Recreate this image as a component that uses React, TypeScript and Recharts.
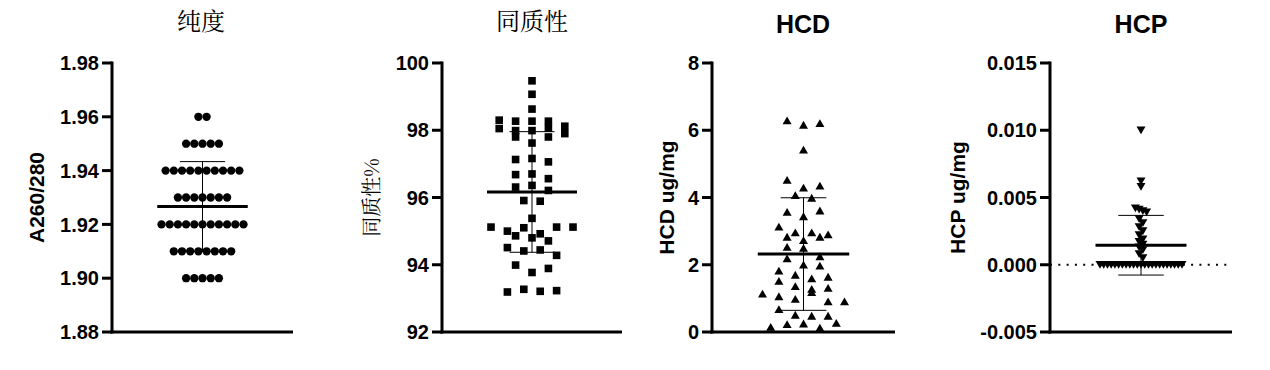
import React from 'react';
import { ScatterChart, Scatter, XAxis, YAxis, ReferenceLine } from 'recharts';

// ---------- data ----------
const titles = ['纯度', '同质性', 'HCD', 'HCP'];
const yLabels = ['A260/280', '同质性%', 'HCD ug/mg', 'HCP ug/mg'];

const purityValues = [
  1.96, 1.96,
  1.95, 1.95, 1.95, 1.95, 1.95,
  1.94, 1.94, 1.94, 1.94, 1.94, 1.94, 1.94, 1.94, 1.94, 1.94,
  1.93, 1.93, 1.93, 1.93, 1.93, 1.93, 1.93,
  1.92, 1.92, 1.92, 1.92, 1.92, 1.92, 1.92, 1.92, 1.92, 1.92, 1.92,
  1.91, 1.91, 1.91, 1.91, 1.91, 1.91, 1.91, 1.91,
  1.9, 1.9, 1.9, 1.9, 1.9,
];
const purityTicks = [1.88, 1.9, 1.92, 1.94, 1.96, 1.98];

const homogeneityValues = [
  99.47, 99.07, 98.63, 98.3, 98.27, 98.27, 98.27, 98.05, 97.8, 97.99, 97.99, 98.12,
  98.06, 97.9, 97.62, 97.8, 97.13, 97.16, 97.06, 96.68, 96.7, 96.56, 96.31, 96.36,
  96.21, 95.91, 95.89, 95.38, 95.12, 95.0, 95.1, 94.86, 94.92, 95.12, 95.12, 94.8,
  94.51, 94.71, 94.41, 94.44, 94.28, 93.99, 93.77, 93.89, 93.19, 93.27, 93.21, 93.23,
];
const homogeneityTicks = [92, 94, 96, 98, 100];

const hcdValues = [
  6.29, 6.16, 6.21, 5.42, 4.52, 4.29, 4.35, 4.07, 3.99, 3.57, 3.44, 3.61,
  3.13, 2.96, 2.83, 2.96, 2.9, 2.73, 2.83, 2.53, 2.5, 2.19, 2.25, 2.0,
  1.82, 1.97, 1.7, 1.59, 1.64, 1.52, 1.36, 1.28, 1.31, 1.14, 1.06, 0.98,
  1.18, 0.91, 0.91, 0.68, 0.51, 0.48, 0.48, 0.15, 0.23, 0.25, 0.13, 0.27,
];
const hcdTicks = [0, 2, 4, 6, 8];

const hcpValues = [
  0.01, 0.0062, 0.0058, 0.0042, 0.0041, 0.004, 0.0039, 0.0034, 0.0031, 0.0028,
  0.0025, 0.0022, 0.0019, 0.0017, 0.0015, 0.0013, 0.0011, 0.0008, 0.0005,
  0, 0, 0, 0, 0, 0, 0, 0, 0, 0, 0, 0, 0, 0, 0, 0, 0, 0, 0, 0, 0, 0, 0,
];
const hcpTicks = [-0.005, 0, 0.005, 0.01, 0.015];

// ---------- helpers ----------
const PLOT_TOP = 63;
const PLOT_BOTTOM = 332;
const CHART_H = 370;

function mean(v: number[]) {
  return v.reduce((a, b) => a + b, 0) / v.length;
}
function sd(v: number[]) {
  const m = mean(v);
  return Math.sqrt(v.reduce((a, b) => a + (b - m) * (b - m), 0) / (v.length - 1));
}

// column-scatter layout: bin points by pixel height, spread each bin centred
function swarm(
  values: number[],
  domain: [number, number],
  halfW: number,
  sym: number,
  maxHalf: number,
  binH: number,
) {
  const pxPerUnit = (PLOT_BOTTOM - PLOT_TOP) / (domain[1] - domain[0]);
  const order = values.map((_, i) => i).sort((a, b) => values[b] - values[a]);
  const bins: number[][] = [];
  let cur: number[] = [];
  let startY = 0;
  for (const i of order) {
    const y = values[i] * pxPerUnit;
    if (cur.length && startY - y < binH) cur.push(i);
    else {
      if (cur.length) bins.push(cur);
      cur = [i];
      startY = y;
    }
  }
  if (cur.length) bins.push(cur);
  const maxN = Math.max(...bins.map((b) => b.length));
  const spacing = maxN > 1 ? Math.min(2 * sym, (2 * maxHalf) / (maxN - 1)) : 2 * sym;
  const xs = new Array(values.length).fill(0);
  for (const b of bins) {
    const s = [...b].sort((a, c) => a - c);
    s.forEach((i, k) => {
      xs[i] = ((k - (s.length - 1) / 2) * spacing) / halfW;
    });
  }
  return values.map((v, i) => ({ x: xs[i], y: v }));
}

const Circle = (p: any) => <circle cx={p.cx} cy={p.cy} r={4.15} fill="#000" />;
const Square = (p: any) => (
  <rect x={p.cx - 3.8} y={p.cy - 3.8} width={7.6} height={7.6} fill="#000" />
);
const TriUp = (p: any) => (
  <polygon
    points={`${p.cx - 4.5},${p.cy + 3.8} ${p.cx + 4.5},${p.cy + 3.8} ${p.cx},${p.cy - 4}`}
    fill="#000"
  />
);
const TriDown = (p: any) => (
  <polygon
    points={`${p.cx - 4.5},${p.cy - 3.8} ${p.cx + 4.5},${p.cy - 3.8} ${p.cx},${p.cy + 4}`}
    fill="#000"
  />
);

const LATIN = "'Liberation Sans', Arial, sans-serif";
const CJK = "'Noto Serif CJK SC', 'Noto Sans CJK SC', serif";

type PanelProps = {
  left: number;
  axisX: number;
  right: number;
  values: number[];
  domain: [number, number];
  ticks: number[];
  fmt: (v: number) => string;
  shape: any;
  sym: number;
  binH: number;
  labelDx: number;
  ylabel: string;
  ylabelCjk: boolean;
  zeroLine?: boolean;
};

function Panel(p: PanelProps) {
  const width = p.right - p.left;
  const yw = p.axisX - p.left;
  const halfW = (p.right - p.axisX) / 2;
  const data = swarm(p.values, p.domain, halfW, p.sym, 41, p.binH);
  const m = mean(p.values);
  const s = sd(p.values);
  const axisStyle = { stroke: '#000', strokeWidth: 3, strokeLinecap: 'square' as const };
  return (
    <div style={{ position: 'absolute', left: p.left, top: 0 }}>
      <ScatterChart
        width={width}
        height={CHART_H}
        margin={{ top: PLOT_TOP, right: 0, bottom: 0, left: 0 }}
      >
        <XAxis
          type="number"
          dataKey="x"
          domain={[-1, 1]}
          ticks={[0]}
          tick={false}
          height={CHART_H - PLOT_BOTTOM}
          tickSize={10}
          axisLine={axisStyle}
          tickLine={{ stroke: '#000', strokeWidth: 3 }}
        />
        <YAxis
          type="number"
          dataKey="y"
          domain={p.domain}
          ticks={p.ticks}
          interval={0}
          width={yw}
          tickSize={10}
          tickMargin={3}
          tickFormatter={p.fmt}
          axisLine={axisStyle}
          tickLine={{ stroke: '#000', strokeWidth: 3 }}
          tick={{ fill: '#000', fontSize: 20, fontWeight: 'bold', fontFamily: LATIN }}
          label={{
            value: p.ylabel,
            angle: -90,
            position: 'center',
            dx: p.labelDx,
            fill: '#000',
            fontSize: p.ylabelCjk ? 20 : 21,
            fontWeight: p.ylabelCjk ? 'normal' : 'bold',
            fontFamily: p.ylabelCjk ? CJK : LATIN,
          }}
        />
        {p.zeroLine && (
          <ReferenceLine y={0} stroke="#000" strokeWidth={2} strokeDasharray="2 6.3" />
        )}
        <Scatter data={data} shape={p.shape} isAnimationActive={false} />
        <ReferenceLine
          segment={[{ x: -0.5, y: m }, { x: 0.5, y: m }]}
          stroke="#000"
          strokeWidth={3}
          ifOverflow="visible"
        />
        <ReferenceLine
          segment={[{ x: -0.25, y: m + s }, { x: 0.25, y: m + s }]}
          stroke="#000"
          strokeWidth={1}
          ifOverflow="visible"
        />
        <ReferenceLine
          segment={[{ x: -0.25, y: m - s }, { x: 0.25, y: m - s }]}
          stroke="#000"
          strokeWidth={1}
          ifOverflow="visible"
        />
        <ReferenceLine
          segment={[{ x: 0, y: m - s }, { x: 0, y: m + s }]}
          stroke="#000"
          strokeWidth={1}
          ifOverflow="visible"
        />
      </ScatterChart>
    </div>
  );
}

function Title({ text, cx, cjk }: { text: string; cx: number; cjk: boolean }) {
  return (
    <div
      style={{
        position: 'absolute',
        left: cx - 100,
        width: 200,
        top: cjk ? 8 : 12,
        textAlign: 'center',
        fontSize: cjk ? 24 : 25,
        lineHeight: cjk ? '24px' : '25px',
        fontWeight: cjk ? 'normal' : 'bold',
        fontFamily: cjk ? CJK : LATIN,
        color: '#000',
        whiteSpace: 'nowrap',
      }}
    >
      {text}
    </div>
  );
}

export default function App() {
  return (
    <div
      style={{
        position: 'absolute',
        left: 0,
        top: 0,
        width: 1270,
        height: 370,
        background: '#fff',
        overflow: 'hidden',
      }}
    >
      <Title text={titles[0]} cx={201} cjk />
      <Title text={titles[1]} cx={532} cjk />
      <Title text={titles[2]} cx={803} cjk={false} />
      <Title text={titles[3]} cx={1141} cjk={false} />
      <Panel
        left={0}
        axisX={112}
        right={293}
        values={purityValues}
        domain={[1.88, 1.98]}
        ticks={purityTicks}
        fmt={(v) => v.toFixed(2)}
        shape={Circle}
        sym={8.3}
        binH={8}
        labelDx={-19}
        ylabel={yLabels[0]}
        ylabelCjk={false}
      />
      <Panel
        left={322}
        axisX={442}
        right={622}
        values={homogeneityValues}
        domain={[92, 100]}
        ticks={homogeneityTicks}
        fmt={(v) => String(v)}
        shape={Square}
        sym={8.2}
        binH={8}
        labelDx={-10}
        ylabel={yLabels[1]}
        ylabelCjk
      />
      <Panel
        left={640}
        axisX={712}
        right={895}
        values={hcdValues}
        domain={[0, 8]}
        ticks={hcdTicks}
        fmt={(v) => String(v)}
        shape={TriUp}
        sym={8.2}
        binH={10}
        labelDx={-9}
        ylabel={yLabels[2]}
        ylabelCjk={false}
      />
      <Panel
        left={940}
        axisX={1050}
        right={1232}
        values={hcpValues}
        domain={[-0.005, 0.015]}
        ticks={hcpTicks}
        fmt={(v) => v.toFixed(3)}
        shape={TriDown}
        sym={8.2}
        binH={5}
        labelDx={-37}
        ylabel={yLabels[3]}
        ylabelCjk={false}
        zeroLine
      />
    </div>
  );
}
